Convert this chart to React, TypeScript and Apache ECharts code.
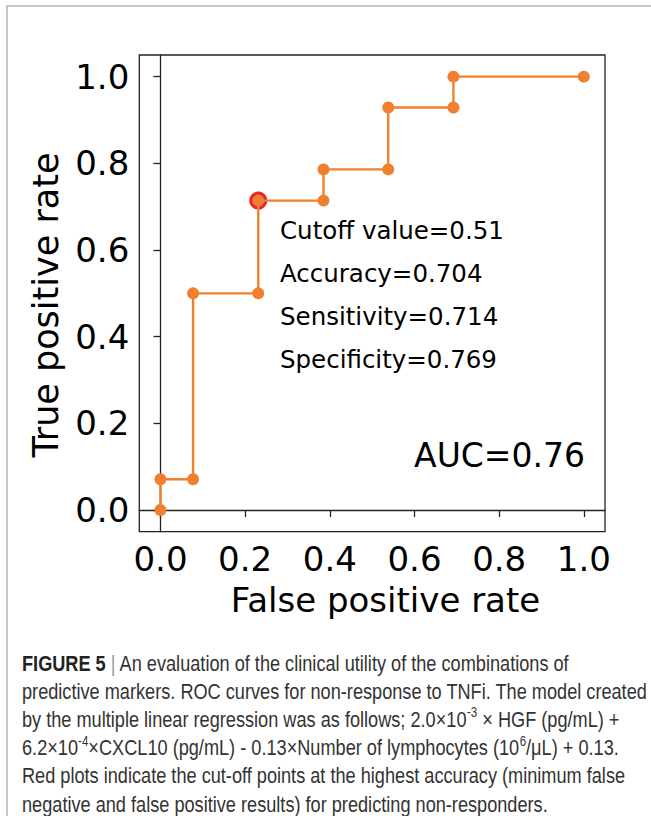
import React, { useEffect, useRef } from "react";
import * as echarts from "echarts";

// ROC curve points (false positive rate, true positive rate)
const fpr = [0, 0, 0.077, 0.077, 0.231, 0.231, 0.385, 0.385, 0.538, 0.538, 0.692, 0.692, 1.0];
const tpr = [0, 0.071, 0.071, 0.5, 0.5, 0.714, 0.714, 0.786, 0.786, 0.929, 0.929, 1.0, 1.0];
// cut-off point at highest accuracy
const cutoffPoint = [0.231, 0.714];
// tick values
const tickValues = [0, 0.2, 0.4, 0.6, 0.8, 1.0];
const statLines = [
  "Cutoff value=0.51",
  "Accuracy=0.704",
  "Sensitivity=0.714",
  "Specificity=0.769",
];
const aucText = "AUC=0.76";
const xTitle = "False positive rate";
const yTitle = "True positive rate";
const captionLines = [
  "{b|FIGURE 5} {g||} An evaluation of the clinical utility of the combinations of",
  "predictive markers. ROC curves for non-response to TNFi. The model created",
  "by the multiple linear regression was as follows; 2.0×10{sup|-3} × HGF (pg/mL) +",
  "6.2×10{sup|-4}×CXCL10 (pg/mL) - 0.13×Number of lymphocytes (10{sup|6}/μL) + 0.13.",
  "Red plots indicate the cut-off points at the highest accuracy (minimum false",
  "negative and false positive results) for predicting non-responders.",
];

const ORANGE = "#f0802f";
const RED = "#e8262a";
const FONT = "DejaVu Sans";
const CAP_FONT = '"Liberation Sans", Arial, sans-serif';

export default function App() {
  const ref = useRef<HTMLDivElement>(null);
  useEffect(() => {
    document.body.style.margin = "0";
    const chart = echarts.init(ref.current!, null, { renderer: "svg" });
    const curve = fpr.map((x, i) => [x, tpr[i]]);
    const axisCommon = {
      type: "value" as const,
      min: -0.05,
      max: 1.05,
      splitLine: { show: false },
      axisLine: { show: true, lineStyle: { color: "#222", width: 1.3 } },
      axisTick: {
        show: true,
        inside: false,
        length: 7,
        customValues: tickValues,
        lineStyle: { color: "#222", width: 1.3 },
      },
      axisLabel: {
        show: true,
        customValues: tickValues,
        formatter: (v: number) => v.toFixed(1),
        fontSize: 34,
        fontFamily: FONT,
        color: "#000",
        margin: 10,
      },
    };
    const statTexts = statLines.map((t, i) => ({
      type: "text",
      left: 280,
      top: 230 + i * 43.3 - 14,
      style: {
        text: t,
        fontSize: 24.5,
        fontFamily: FONT,
        fill: "#000",
        lineHeight: 28,
      },
    }));
    const captionTexts = captionLines.map((t, i) => ({
      type: "text",
      x: 22,
      y: 663 + i * 28.2,
      scaleX: 0.826,
      style: {
        text: t,
        x: 0,
        y: 0,
        fontSize: 22,
        fontFamily: CAP_FONT,
        fill: "#333",
        verticalAlign: "middle",
        lineHeight: 28,
        rich: {
          b: { fontSize: 22, fontWeight: "bold", fontFamily: CAP_FONT, fill: "#222", lineHeight: 28 },
          g: { fontSize: 22, fontFamily: CAP_FONT, fill: "#999", lineHeight: 28 },
          sup: { fontSize: 14, fontFamily: CAP_FONT, fill: "#333", lineHeight: 16, verticalAlign: "top" },
        },
      },
    }));
    chart.setOption({
      animation: false,
      backgroundColor: "#fff",
      grid: {
        left: 139.3,
        top: 55,
        right: 46,
        bottom: 284.3,
        show: true,
        borderColor: "#222",
        borderWidth: 1.3,
        backgroundColor: "transparent",
      },
      xAxis: { ...axisCommon },
      yAxis: { ...axisCommon },
      series: [
        {
          type: "scatter",
          data: [cutoffPoint],
          symbol: "circle",
          symbolSize: 18,
          itemStyle: { color: RED, opacity: 1 },
          z: 2,
        },
        {
          type: "line",
          data: curve,
          symbol: "circle",
          symbolSize: 12,
          showAllSymbol: true,
          lineStyle: { color: ORANGE, width: 2.4 },
          itemStyle: { color: ORANGE, opacity: 1 },
          z: 3,
        },
      ],
      graphic: [
        {
          type: "rect",
          shape: { x: 7, y: 6, width: 800, height: 1000 },
          style: { fill: "none", stroke: "#b5b5b5", lineWidth: 1.5 },
          z: -1,
        },
        ...statTexts,
        {
          type: "text",
          x: 585,
          y: 455,
          style: {
            text: aucText,
            fontSize: 33,
            fontFamily: FONT,
            fill: "#000",
            align: "right",
            verticalAlign: "middle",
          },
        },
        {
          type: "text",
          x: 385.5,
          y: 600,
          style: {
            text: xTitle,
            fontSize: 34,
            fontFamily: FONT,
            fill: "#000",
            align: "center",
            verticalAlign: "middle",
          },
        },
        {
          type: "text",
          x: 46,
          y: 305,
          rotation: Math.PI / 2,
          style: {
            text: yTitle,
            fontSize: 35,
            fontFamily: FONT,
            fill: "#000",
            align: "center",
            verticalAlign: "middle",
          },
        },
        ...captionTexts,
      ],
    });
    return () => chart.dispose();
  }, []);
  return <div ref={ref} style={{ width: 651, height: 816 }} />;
}
